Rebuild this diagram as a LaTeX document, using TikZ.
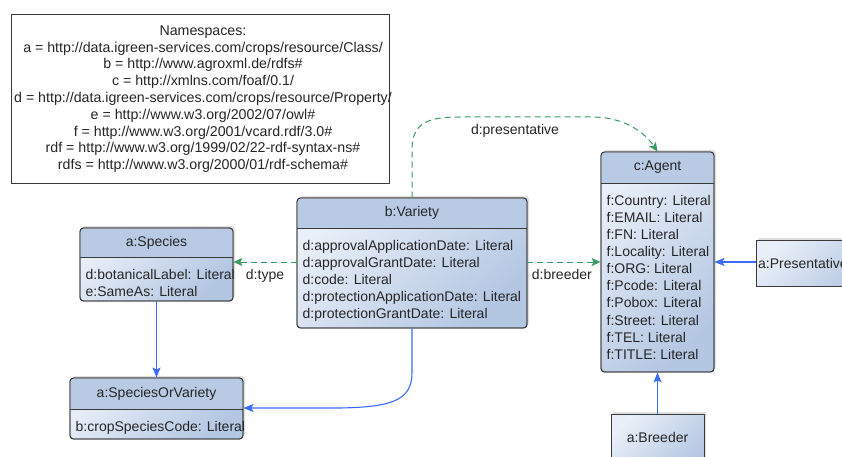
\documentclass[tikz,border=0pt]{standalone}
\usepackage{fontspec}
\setmainfont{Liberation Sans}
\usetikzlibrary{arrows.meta,shadows,calc}

\definecolor{hdrblue}{HTML}{B8CAE4}
\definecolor{bodylight}{HTML}{E9EFF8}
\definecolor{bodydark}{HTML}{B3C6E2}
\definecolor{edgegray}{HTML}{3A3A3A}
\definecolor{propgreen}{HTML}{3A9A60}
\definecolor{subblue}{HTML}{3B6BFF}

\tikzset{
  boxbase/.style={draw=edgegray, line width=0.9pt, inner sep=0pt,
    top color=bodylight, bottom color=bodydark, shading angle=45,
    drop shadow={opacity=0.25, shadow xshift=2pt, shadow yshift=2pt}},
  roundbox/.style={boxbase, rounded corners=3.5pt},
  plainbox/.style={boxbase},
  txt/.style={font=\fontsize{14}{17.1}\selectfont, inner sep=0pt, text=black!85},
  bodytxt/.style={txt, align=left, anchor=north west},
  proplink/.style={draw=propgreen, line width=1pt, dash pattern=on 6pt off 4pt,
    -{Stealth[length=9pt,width=8pt,inset=2pt]}},
  sublink/.style={draw=subblue, line width=1.1pt,
    -{Stealth[length=10pt,width=8pt,inset=2pt]}},
  edgelabel/.style={txt}
}

% UML-like class: #1 name, (#2,#3) top-left, (#4,#5) bottom-right, #6 divider y,
% #7 title, #8 attribute lines
\newcommand{\umlclass}[8]{%
  \node[roundbox, minimum width={#4-#2}, minimum height={#5-#3}]
    (#1) at ({(#2+#4)/2},{(#3+#5)/2}) {};
  \fill[hdrblue] (#2+0.5,#6) [rounded corners=3pt] -- (#2+0.5,#3+0.5)
    -- (#4-0.5,#3+0.5) [sharp corners] -- (#4-0.5,#6) -- cycle;
  \draw[edgegray, line width=0.9pt, rounded corners=3.5pt] (#2,#3) rectangle (#4,#5);
  \draw[edgegray, line width=0.9pt] (#2,#6) -- (#4,#6);
  \node[txt] (#1-title) at ({(#2+#4)/2},{(#3+#6)/2}) {#7};
  \node[bodytxt] (#1-attrs) at (#2+5.5,#6+12) {#8};
}

\begin{document}
\begin{tikzpicture}[x=1pt, y=-1pt]
\useasboundingbox (0,0) rectangle (842,457);
\clip (0,0) rectangle (842,457);

% namespace legend
\node[draw=edgegray, line width=0.9pt, fill=white, minimum width=378, minimum height=169,
      inner sep=0pt] (ns) at (200,98.5) {};
\node[txt, align=center, font=\fontsize{14.2}{16.8}\selectfont] (nstext) at (203,99) {%
Namespaces:\\
a = http://data.igreen-services.com/crops/resource/Class/\\
b = http://www.agroxml.de/rdfs\#\\
c = http://xmlns.com/foaf/0.1/\\
d = http://data.igreen-services.com/crops/resource/Property/\\
e = http://www.w3.org/2002/07/owl\#\\
f = http://www.w3.org/2001/vcard.rdf/3.0\#\\
rdf = http://www.w3.org/1999/02/22-rdf-syntax-ns\#\\
rdfs = http://www.w3.org/2000/01/rdf-schema\#};

% classes
\umlclass{species}{80}{228}{233}{301}{257}{a:Species}{%
d:botanicalLabel: Literal\\e:SameAs: Literal}
\umlclass{sov}{70}{378}{243}{439}{409}{a:SpeciesOrVariety}{%
b:cropSpeciesCode: Literal}
\umlclass{variety}{297}{198}{527}{328}{228}{b:Variety}{%
d:approvalApplicationDate: Literal\\
d:approvalGrantDate: Literal\\
d:code: Literal\\
d:protectionApplicationDate: Literal\\
d:protectionGrantDate: Literal}
\umlclass{agent}{601}{152}{714}{372}{183}{c:Agent}{%
f:Country: Literal\\f:EMAIL: Literal\\f:FN: Literal\\f:Locality: Literal\\
f:ORG: Literal\\f:Pcode: Literal\\f:Pobox: Literal\\f:Street: Literal\\
f:TEL: Literal\\f:TITLE: Literal}

% plain boxes
\node[plainbox, minimum width=130, minimum height=46] (pres) at (821,263) {};
\node[txt, anchor=west] (pres-text) at (758,263) {a:Presentative};
\node[plainbox, minimum width=93, minimum height=60] (breeder) at (657.5,444) {};
\node[txt] (breeder-text) at (657.5,437) {a:Breeder};

% property links
\draw[proplink] (variety.west |- 0,262) -- (species.east |- 0,262)
  node[edgelabel, pos=0.5, below=7pt] (lbl-type) {d:type};
\draw[proplink] (variety.east |- 0,262) -- (agent.west |- 0,262)
  node[edgelabel, pos=0.47, below=7pt] (lbl-breeder) {d:breeder};
\draw[proplink] (variety.north) -- ++(0,-48)
  .. controls +(0,-28) and (430,117) .. (460,117) -- (592,117)
  .. controls (625,117) and (645,133) .. (agent.north);
\node[edgelabel] (lbl-pres) at (515,131) {d:presentative};

% subclass links
\draw[sublink] (species.south) -- (sov.north);
\draw[sublink] (variety.south) -- ++(0,44)
  .. controls +(0,28) and (392,407) .. (340,408) -- (sov.east |- 0,408);
\draw[sublink] (pres.west |- 0,262) -- (agent.east |- 0,262);
\draw[sublink] (breeder.north) -- (agent.south);
\end{tikzpicture}
\end{document}
